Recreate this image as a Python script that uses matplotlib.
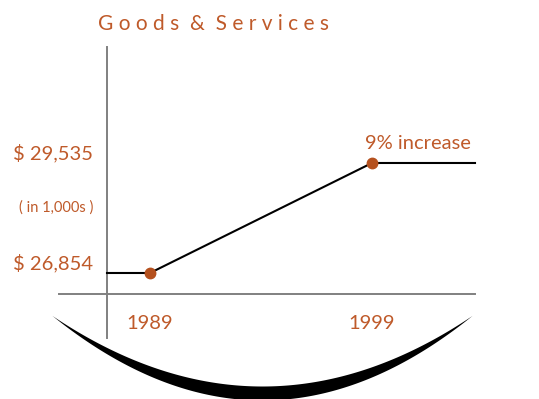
import numpy as np
import matplotlib
matplotlib.use("Agg")
import matplotlib.pyplot as plt
import matplotlib.transforms as mtransforms

plt.rcParams['font.family'] = ['Lato', 'DejaVu Sans']

# data
years = [1989, 1999]
values = [26854, 29535]
title = "Goods & Services"
unit_note = "( in 1,000s )"
change_note = "9% increase"

ORANGE = '#BF5A2A'
DOT = '#B5511E'
GRAY = '#808080'

fig = plt.figure(figsize=(5.39, 3.99), dpi=100)

# decoration layer in pixel space (the black crescent at the bottom)
bg = fig.add_axes([0, 0, 1, 1])
bg.set_xlim(0, 539)
bg.set_ylim(399, 0)
bg.axis('off')
cx, half = 262, 210
dx = np.linspace(-half, half, 400)
inner = 386 - 0.0016 * dx ** 2
thick = 14 * (1 - (dx / half) ** 2)
bg.fill_between(cx + dx, inner, inner + thick, color='black', lw=0)

# chart axes
ax = fig.add_axes([107 / 539, 105 / 399, 368 / 539, 247 / 399])
ax.set_facecolor('none')
ax.set_xlim(1987.063, 2003.64)
ax.set_ylim(26342, 32362)
ax.axis('off')

# axis lines (extend past the axes box)
ax.plot([0, 0], [-0.178, 1.0], transform=ax.transAxes, color=GRAY, lw=1.4, clip_on=False)
ax.plot([-0.130, 1.0], [0, 0], transform=ax.transAxes, color=GRAY, lw=1.4, clip_on=False)

x0, x1 = ax.get_xlim()
ax.plot([x0] + years + [x1], [values[0]] + values + [values[-1]],
        color='black', lw=1.5, clip_on=False, zorder=3)
ax.plot(years, values, 'o', color=DOT, ms=7.5, zorder=4)

trans = mtransforms.blended_transform_factory(ax.transAxes, ax.transData)
for v in values:
    ax.annotate(f"$ {v:,}", xy=(0, v), xycoords=trans, xytext=(-10, 7),
                textcoords='offset points', ha='right', va='center',
                color=ORANGE, fontsize=14.5)
ax.annotate(unit_note, xy=(0, 0.348), xycoords='axes fraction', xytext=(-10, 0),
            textcoords='offset points', ha='right', va='center',
            color=ORANGE, fontsize=10.5)

for yr in years:
    ax.annotate(str(yr), xy=(yr, 0), xycoords=('data', 'axes fraction'),
                xytext=(0, -21), textcoords='offset points', ha='center', va='center',
                color=ORANGE, fontsize=14.5)

ax.annotate(change_note, xy=(years[-1], values[-1]), xytext=(33, 14),
            textcoords='offset points', ha='center', va='center',
            color=ORANGE, fontsize=14.5)

spaced = "  ".join(" ".join(w) for w in title.split(" "))
fig.text(98 / 539, 1 - 30 / 399, spaced, ha='left', va='baseline',
         color=ORANGE, fontsize=15)

fig.savefig("out.png", dpi=100)
